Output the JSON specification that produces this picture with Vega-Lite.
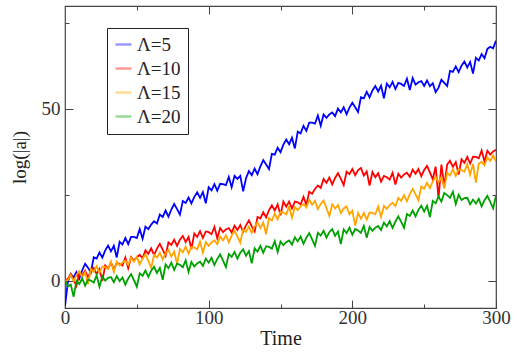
{
"$schema":"https://vega.github.io/schema/vega-lite/v6.json",
"width":431,"height":302,
"autosize":"none",
"padding":{"left":65,"top":6,"right":21,"bottom":48},
"background":"white",
"config":{"view":{"stroke":"#444","strokeWidth":1.2},"font":"Liberation Serif",
 "axis":{"labelFont":"Liberation Serif","titleFont":"Liberation Serif"},
 "legend":{"labelFont":"Liberation Serif"}},
"data":{"values":[
{"t":0,"a":-7.5,"b":0,"c":0,"d":0},
{"t":2,"a":-0.4,"b":0.5,"c":0.1,"d":-1.7},
{"t":4,"a":1.9,"b":1.9,"c":1.6,"d":-1.2},
{"t":6,"a":0.9,"b":0.2,"c":-0.2,"d":-4.7},
{"t":8,"a":2.5,"b":-1.6,"c":1.6,"d":-0.1},
{"t":10,"a":0.6,"b":2.3,"c":2.7,"d":-1.0},
{"t":12,"a":3.0,"b":1.5,"c":0.9,"d":0.6},
{"t":14,"a":4.9,"b":2.9,"c":2.4,"d":-1.5},
{"t":16,"a":3.7,"b":1.0,"c":-1.1,"d":0.3},
{"t":18,"a":2.4,"b":2.7,"c":3.4,"d":0.0},
{"t":20,"a":6.8,"b":3.7,"c":2.5,"d":-0.6},
{"t":22,"a":6.4,"b":1.9,"c":4.2,"d":1.5},
{"t":24,"a":8.2,"b":3.4,"c":2.2,"d":-1.8},
{"t":26,"a":6.7,"b":-0.1,"c":4.1,"d":1.2},
{"t":28,"a":8.8,"b":4.4,"c":3.9,"d":0.0},
{"t":30,"a":10.2,"b":3.5,"c":3.4,"d":0.8},
{"t":32,"a":8.5,"b":5.2,"c":5.6,"d":1.0},
{"t":34,"a":10.1,"b":3.2,"c":2.4,"d":-0.5},
{"t":36,"a":6.7,"b":5.1,"c":5.5,"d":1.3},
{"t":38,"a":11.3,"b":4.9,"c":4.4,"d":-0.2},
{"t":40,"a":10.5,"b":4.4,"c":5.3,"d":0.9},
{"t":42,"a":12.4,"b":6.7,"c":5.8,"d":-1.2},
{"t":44,"a":10.6,"b":3.6,"c":4.6,"d":0.6},
{"t":46,"a":12.7,"b":6.8,"c":6.7,"d":1.9},
{"t":48,"a":12.7,"b":5.8,"c":5.5,"d":0.1},
{"t":50,"a":12.4,"b":6.8,"c":6.9,"d":-1.8},
{"t":52,"a":15.0,"b":7.5,"c":4.7,"d":2.1},
{"t":54,"a":12.2,"b":6.5,"c":6.4,"d":1.4},
{"t":56,"a":15.7,"b":8.8,"c":7.6,"d":2.9},
{"t":58,"a":15.0,"b":7.8,"c":5.7,"d":1.1},
{"t":60,"a":16.3,"b":9.4,"c":3.7,"d":2.9},
{"t":62,"a":17.3,"b":7.4,"c":7.5,"d":4.0},
{"t":64,"a":16.6,"b":9.3,"c":6.7,"d":2.2},
{"t":66,"a":19.2,"b":10.7,"c":8.1,"d":3.7},
{"t":68,"a":18.5,"b":9.0,"c":6.2,"d":0.2},
{"t":70,"a":20.4,"b":7.2,"c":7.9,"d":4.7},
{"t":72,"a":18.6,"b":11.1,"c":8.9,"d":3.6},
{"t":74,"a":20.7,"b":10.4,"c":7.0,"d":5.2},
{"t":76,"a":22.3,"b":11.9,"c":8.4,"d":3.1},
{"t":78,"a":20.8,"b":10.1,"c":4.8,"d":4.9},
{"t":80,"a":19.2,"b":11.9,"c":9.2,"d":4.6},
{"t":82,"a":23.2,"b":13.0,"c":8.2,"d":3.9},
{"t":84,"a":22.6,"b":11.2,"c":9.9,"d":5.9},
{"t":86,"a":24.2,"b":12.7,"c":7.9,"d":2.5},
{"t":88,"a":22.5,"b":9.2,"c":9.8,"d":5.4},
{"t":90,"a":24.4,"b":13.7,"c":9.6,"d":4.1},
{"t":92,"a":25.7,"b":12.7,"c":9.1,"d":5.0},
{"t":94,"a":24.1,"b":14.4,"c":11.3,"d":5.5},
{"t":96,"a":25.8,"b":12.4,"c":8.1,"d":4.3},
{"t":98,"a":22.5,"b":14.3,"c":11.2,"d":6.4},
{"t":100,"a":27.2,"b":14.1,"c":10.1,"d":5.2},
{"t":102,"a":26.3,"b":13.5,"c":11.1,"d":6.6},
{"t":104,"a":28.1,"b":15.6,"c":11.7,"d":4.5},
{"t":106,"a":26.2,"b":12.3,"c":10.6,"d":6.3},
{"t":108,"a":28.2,"b":15.3,"c":12.8,"d":7.6},
{"t":110,"a":28.1,"b":14.1,"c":11.7,"d":5.8},
{"t":112,"a":27.8,"b":14.9,"c":13.2,"d":3.9},
{"t":114,"a":30.2,"b":15.3,"c":11.2,"d":7.7},
{"t":116,"a":27.2,"b":14.0,"c":13.1,"d":6.9},
{"t":118,"a":30.5,"b":16.0,"c":14.5,"d":8.3},
{"t":120,"a":29.6,"b":14.7,"c":12.8,"d":6.4},
{"t":122,"a":30.5,"b":16.2,"c":11.0,"d":8.1},
{"t":124,"a":26.0,"b":14.2,"c":14.9,"d":9.1},
{"t":126,"a":29.8,"b":16.1,"c":14.2,"d":7.2},
{"t":128,"a":31.9,"b":17.5,"c":15.7,"d":8.6},
{"t":130,"a":30.7,"b":15.8,"c":13.9,"d":5.0},
{"t":132,"a":32.6,"b":14.3,"c":15.8,"d":9.4},
{"t":134,"a":31.0,"b":18.5,"c":17.0,"d":8.4},
{"t":136,"a":33.3,"b":18.1,"c":15.3,"d":10.1},
{"t":138,"a":35.1,"b":19.9,"c":16.9,"d":8.1},
{"t":140,"a":33.8,"b":18.4,"c":13.5,"d":10.0},
{"t":142,"a":32.5,"b":20.5,"c":18.2,"d":9.8},
{"t":144,"a":36.9,"b":21.9,"c":17.5,"d":9.3},
{"t":146,"a":36.7,"b":20.4,"c":19.5,"d":11.5},
{"t":148,"a":38.7,"b":22.2,"c":17.8,"d":8.3},
{"t":150,"a":37.4,"b":19.0,"c":20.0,"d":11.4},
{"t":152,"a":39.6,"b":23.0,"c":19.8,"d":10.3},
{"t":154,"a":41.1,"b":21.5,"c":19.3,"d":11.2},
{"t":156,"a":39.7,"b":23.0,"c":21.5,"d":11.7},
{"t":158,"a":41.6,"b":21.0,"c":18.3,"d":10.5},
{"t":160,"a":38.5,"b":23.0,"c":21.4,"d":12.6},
{"t":162,"a":43.4,"b":22.8,"c":20.5,"d":11.4},
{"t":164,"a":42.9,"b":22.2,"c":21.6,"d":12.8},
{"t":166,"a":45.1,"b":24.4,"c":22.3,"d":10.7},
{"t":168,"a":43.6,"b":22.0,"c":21.3,"d":12.5},
{"t":170,"a":46.0,"b":25.9,"c":23.6,"d":13.8},
{"t":172,"a":46.0,"b":25.3,"c":22.1,"d":12.0},
{"t":174,"a":45.7,"b":26.7,"c":23.2,"d":10.1},
{"t":176,"a":48.1,"b":27.7,"c":20.8,"d":13.9},
{"t":178,"a":45.1,"b":27.0,"c":22.3,"d":13.1},
{"t":180,"a":48.4,"b":29.6,"c":23.3,"d":14.5},
{"t":182,"a":47.4,"b":28.5,"c":21.1,"d":12.5},
{"t":184,"a":48.4,"b":30.0,"c":18.8,"d":14.1},
{"t":186,"a":49.0,"b":28.0,"c":22.2,"d":15.0},
{"t":188,"a":47.9,"b":29.9,"c":21.0,"d":13.0},
{"t":190,"a":50.1,"b":31.3,"c":22.0,"d":14.3},
{"t":192,"a":49.0,"b":29.6,"c":19.7,"d":10.6},
{"t":194,"a":50.5,"b":27.8,"c":21.0,"d":14.9},
{"t":196,"a":48.5,"b":31.7,"c":21.6,"d":13.8},
{"t":198,"a":50.4,"b":31.0,"c":19.3,"d":15.4},
{"t":200,"a":51.8,"b":32.5,"c":20.3,"d":13.3},
{"t":202,"a":50.5,"b":30.7,"c":16.0,"d":15.0},
{"t":204,"a":49.1,"b":32.2,"c":19.7,"d":14.6},
{"t":206,"a":53.4,"b":32.8,"c":18.0,"d":13.9},
{"t":208,"a":53.1,"b":30.6,"c":19.7,"d":15.9},
{"t":210,"a":55.0,"b":31.8,"c":17.8,"d":12.5},
{"t":212,"a":53.4,"b":27.7,"c":19.8,"d":15.6},
{"t":214,"a":55.4,"b":31.6,"c":19.7,"d":14.5},
{"t":216,"a":56.7,"b":30.1,"c":19.3,"d":15.4},
{"t":218,"a":55.1,"b":31.3,"c":21.6,"d":15.9},
{"t":220,"a":56.8,"b":28.8,"c":18.5,"d":14.7},
{"t":222,"a":53.1,"b":30.5,"c":21.8,"d":16.9},
{"t":224,"a":57.4,"b":30.1,"c":20.9,"d":15.8},
{"t":226,"a":56.3,"b":29.4,"c":22.0,"d":17.3},
{"t":228,"a":57.9,"b":31.4,"c":22.7,"d":15.3},
{"t":230,"a":55.8,"b":28.0,"c":21.7,"d":17.2},
{"t":232,"a":57.6,"b":31.1,"c":24.1,"d":18.7},
{"t":234,"a":57.3,"b":30.0,"c":23.2,"d":17.1},
{"t":236,"a":56.7,"b":30.9,"c":24.9,"d":15.4},
{"t":238,"a":58.8,"b":31.4,"c":23.1,"d":19.4},
{"t":240,"a":55.5,"b":30.2,"c":25.2,"d":18.8},
{"t":242,"a":59.0,"b":32.3,"c":26.7,"d":20.4},
{"t":244,"a":57.1,"b":31.1,"c":25.1,"d":18.7},
{"t":246,"a":57.8,"b":32.5,"c":23.4,"d":20.6},
{"t":248,"a":58.1,"b":30.4,"c":27.4,"d":21.8},
{"t":250,"a":56.7,"b":32.2,"c":26.8,"d":20.1},
{"t":252,"a":58.3,"b":33.4,"c":28.5,"d":21.8},
{"t":254,"a":56.6,"b":31.5,"c":26.9,"d":18.5},
{"t":256,"a":57.5,"b":29.5,"c":28.9,"d":23.2},
{"t":258,"a":54.9,"b":33.2,"c":30.2,"d":22.5},
{"t":260,"a":56.2,"b":24.0,"c":28.6,"d":24.5},
{"t":262,"a":58.5,"b":33.8,"c":30.2,"d":23.0},
{"t":264,"a":57.6,"b":27.5,"c":26.8,"d":25.5},
{"t":266,"a":56.7,"b":33.8,"c":31.4,"d":24.9},
{"t":268,"a":61.1,"b":34.9,"c":30.6,"d":24.1},
{"t":270,"a":60.8,"b":33.1,"c":32.5,"d":25.9},
{"t":272,"a":62.4,"b":34.5,"c":30.5,"d":22.3},
{"t":274,"a":60.7,"b":30.9,"c":32.4,"d":25.0},
{"t":276,"a":62.6,"b":35.3,"c":32.2,"d":23.5},
{"t":278,"a":63.8,"b":34.3,"c":31.7,"d":24.0},
{"t":280,"a":62.1,"b":36.0,"c":33.9,"d":24.1},
{"t":282,"a":63.7,"b":34.1,"c":30.8,"d":22.2},
{"t":284,"a":60.3,"b":36.1,"c":34.0,"d":23.6},
{"t":286,"a":64.9,"b":36.0,"c":28.5,"d":22.4},
{"t":288,"a":64.1,"b":35.6,"c":34.0,"d":23.8},
{"t":290,"a":66.0,"b":37.9,"c":34.6,"d":21.6},
{"t":292,"a":64.8,"b":34.7,"c":33.6,"d":23.4},
{"t":294,"a":67.5,"b":37.8,"c":35.9,"d":24.7},
{"t":296,"a":68.1,"b":36.7,"c":34.9,"d":22.9},
{"t":298,"a":67.7,"b":37.6,"c":36.5,"d":21.0},
{"t":300,"a":69.9,"b":38.1,"c":34.6,"d":24.8}
]},
"transform":[{"fold":["a","b","c","d"],"as":["s","v"]}],
"layer":[
{"mark":{"type":"line","strokeWidth":1.8,"clip":true},
 "encoding":{
  "x":{"field":"t","type":"quantitative","scale":{"domain":[0,300],"nice":false},
   "axis":{"values":[0,50,100,150,200,250,300],"labelExpr":"datum.value % 100 === 0 ? datum.label : ''","labelFlush":false,
    "title":"Time","domain":false,"grid":false,"tickColor":"#444","tickSize":{"condition":{"test":"datum.value % 100 === 0","value":-8},"value":-4},
    "labelFont":"Liberation Serif","labelFontSize":19,"labelColor":"#333","labelPadding":8,"titleFont":"Liberation Serif","titleFontSize":20,"titleFontWeight":"normal","titleColor":"#222","titlePadding":1}},
  "y":{"field":"v","type":"quantitative","scale":{"domain":[-8,80],"nice":false,"zero":false},
   "axis":{"values":[0,25,50,75],"labelExpr":"datum.value % 50 === 0 ? datum.label : ''","labelFlush":false,
    "title":"log(|a|)","domain":false,"grid":false,"tickColor":"#444","tickSize":{"condition":{"test":"datum.value % 50 === 0","value":-8},"value":-4},
    "labelFont":"Liberation Serif","labelFontSize":19,"labelColor":"#333","labelPadding":13,"titleFont":"Liberation Serif","titleFontSize":19,"titleFontWeight":"normal","titleColor":"#222","titlePadding":12}},
  "color":{"field":"s","type":"nominal","scale":{"domain":["a","b","c","d"],"range":["#0000ff","#ff0000","#ffa500","#00a000"]},
   "legend":{"orient":"none","legendX":42,"legendY":22,"title":null,"symbolType":"stroke","symbolSize":256,"symbolStrokeWidth":2.5,"symbolOpacity":0.4,
    "labelFontSize":19,"labelFont":"Liberation Serif","labelColor":"#222","strokeColor":"#222","fillColor":"white","padding":7,"rowPadding":4,
    "labelExpr":"{'a':'Λ=5','b':'Λ=10','c':'Λ=15','d':'Λ=20'}[datum.label]"}}
 }},
{"mark":{"type":"line","opacity":0},
 "encoding":{
  "x":{"field":"t","type":"quantitative","axis":{"orient":"top","values":[50,100,150,200,250],"labels":false,"title":null,"domain":false,"grid":false,"tickColor":"#444","tickSize":{"condition":{"test":"datum.value % 100 === 0","value":-8},"value":-4}}},
  "y":{"field":"v","type":"quantitative","axis":{"orient":"right","values":[0,25,50,75],"labels":false,"title":null,"domain":false,"grid":false,"tickColor":"#444","tickSize":{"condition":{"test":"datum.value % 50 === 0","value":-8},"value":-4}}},
  "detail":{"field":"s"}
 }}
],
"resolve":{"axis":{"x":"independent","y":"independent"}}
}
